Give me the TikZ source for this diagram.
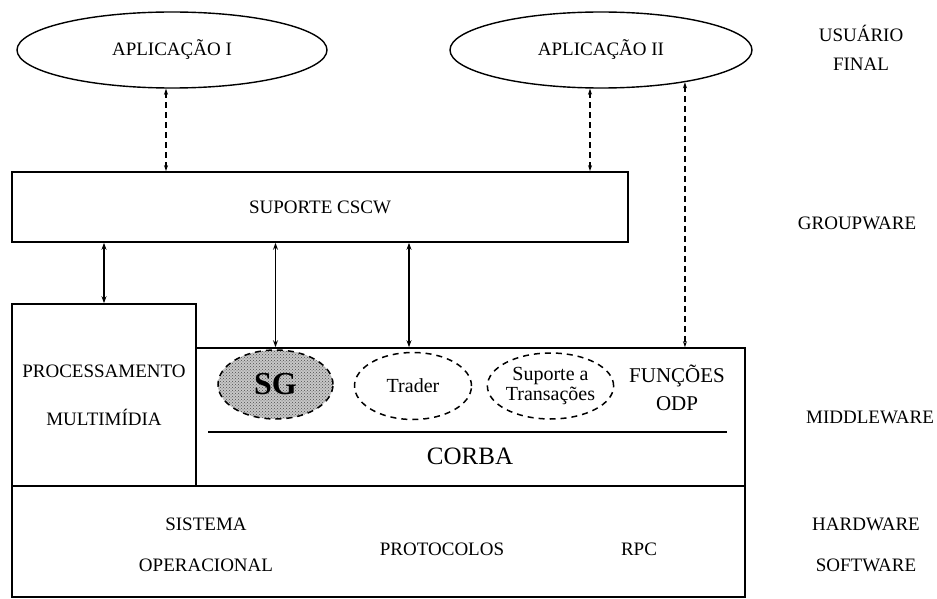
\documentclass[tikz,border=0pt]{standalone}
\usepackage{fontspec}
\setmainfont{Liberation Serif}
\usepackage{tikz}
\usetikzlibrary{shapes.geometric, arrows.meta, positioning, calc, patterns}

\begin{document}
\begin{tikzpicture}[
  x=1pt, y=-1pt,
  every node/.style={font=\fontsize{19}{22}\selectfont},
  layer/.style={rectangle, draw, line width=1.6pt, inner sep=0pt, align=center},
  app/.style={ellipse, draw, line width=1.4pt, inner sep=0pt},
  service/.style={ellipse, draw, line width=1.5pt, dash pattern=on 6pt off 5pt,
                  inner sep=0pt, align=center, font=\fontsize{20}{20}\selectfont},
  tag/.style={align=center},
  biarrow/.style={{Stealth[length=7pt,width=5pt]}-{Stealth[length=7pt,width=5pt]}, line width=1.3pt},
  dasharrow/.style={{Stealth[open,length=6pt,width=4pt]}-{Stealth[open,length=6pt,width=4pt]},
                    line width=1.1pt, dash pattern=on 6pt off 4pt}
]
\useasboundingbox (0,0) rectangle (937,599);

\node[app, minimum width=310pt, minimum height=76pt] (app1) at (172,50) {APLICAÇÃO I};
\node[app, minimum width=302pt, minimum height=76pt] (app2) at (601,50) {APLICAÇÃO II};

\node[layer, minimum width=616pt, minimum height=70pt] (cscw) at (320,207) {SUPORTE CSCW};
\node[layer, minimum width=184pt, minimum height=182pt] (proc) at (104,395)
  {PROCESSAMENTO\\[26pt]MULTIMÍDIA};
\node[layer, minimum width=549pt, minimum height=138pt] (mid) at (470.5,417) {};
\node[layer, minimum width=733pt, minimum height=111pt] (base) at (378.5,541.5) {};

\node[service, minimum width=115pt, minimum height=69pt, preaction={fill=black!22},
      pattern=crosshatch dots, pattern color=black!70] (sg) at (275.5,384.5)
  {\fontsize{32}{32}\selectfont\bfseries SG};
\node[service, minimum width=117pt, minimum height=67pt] (trader) at (413,386) {Trader};
\node[service, minimum width=115pt, minimum height=66pt] (trans) at (550.5,386)
  {Suporte a\\Transações};
\node[tag, font=\fontsize{21}{25}\selectfont] (odp) at (677,388) {FUNÇÕES\\[3pt]ODP};
\draw[line width=1.2pt] (208,432) -- (727,432);
\node[tag, font=\fontsize{25}{25}\selectfont] (corba) at (470,456) {CORBA};

\node[tag] (so) at (206,545) {SISTEMA\\[19pt]OPERACIONAL};
\node[tag] (proto) at (442,549) {PROTOCOLOS};
\node[tag] (rpc) at (639,549) {RPC};

\node[tag] (usr) at (861,48) {USUÁRIO\\[7pt]FINAL};
\node[tag] (grp) at (857,223) {GROUPWARE};
\node[tag] (mdw) at (870,417) {MIDDLEWARE};
\node[tag] (hws) at (866,545) {HARDWARE\\[19pt]SOFTWARE};

\draw[dasharrow] ([xshift=-6pt]app1.south) -- ([xshift=-6pt]app1.south |- cscw.north);
\draw[dasharrow] ([xshift=-11pt]app2.south) -- ([xshift=-11pt]app2.south |- cscw.north);
\draw[dasharrow] (app2.-21) -- (app2.-21 |- mid.north);
\draw[biarrow] (proc.north |- cscw.south) -- (proc.north);
\draw[biarrow] (sg.north |- cscw.south) -- (sg.north |- mid.north);
\draw[biarrow] ([xshift=-4pt]trader.north |- cscw.south) -- ([xshift=-4pt]trader.north |- mid.north);
\end{tikzpicture}
\end{document}
